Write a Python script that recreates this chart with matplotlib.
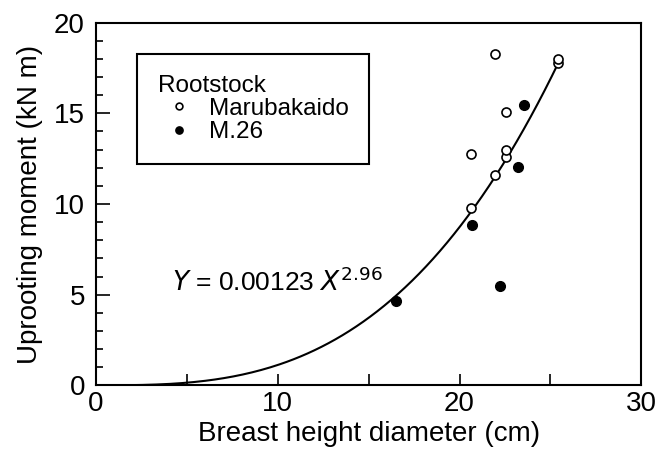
import numpy as np
import matplotlib
matplotlib.use("Agg")
import matplotlib.pyplot as plt
from matplotlib.ticker import MultipleLocator

plt.rcParams["font.family"] = ["Liberation Sans", "DejaVu Sans"]

# Marubakaido (open circles)
maru_x = [20.64, 20.64, 21.93, 21.93, 22.57, 22.57, 22.57, 25.43, 25.43]
maru_y = [9.76, 12.74, 11.62, 18.27, 12.61, 12.98, 15.06, 17.76, 17.98]
# M.26 (filled circles)
m26_x = [16.52, 20.66, 22.24, 23.20, 23.53]
m26_y = [4.67, 8.84, 5.48, 12.06, 15.46]

coef = 0.00123
expo = 2.96
fit_x = np.linspace(0, 25.45, 200)
fit_y = coef * fit_x ** expo

fig = plt.figure(figsize=(6.6, 4.57), dpi=100)
ax = fig.add_axes([0.1455, 0.1569, 0.8262, 0.7934])

ax.plot(fit_x, fit_y, color="black", lw=1.5, zorder=2)
ax.plot(maru_x, maru_y, "o", ms=6.5, mfc="white", mec="black", mew=1.2,
        label="Marubakaido", zorder=3)
ax.plot(m26_x, m26_y, "o", ms=7, mfc="black", mec="black",
        label="M.26", zorder=3)

ax.set_xlim(0, 30)
ax.set_ylim(0, 20)
ax.xaxis.set_major_locator(MultipleLocator(10))
ax.xaxis.set_minor_locator(MultipleLocator(5))
ax.yaxis.set_major_locator(MultipleLocator(5))
ax.yaxis.set_minor_locator(MultipleLocator(1))
ax.tick_params(which="both", direction="in", top=False, right=False, width=1.2)
ax.tick_params(axis="y", which="major", length=10, labelsize=20, pad=8)
ax.tick_params(axis="y", which="minor", length=5)
ax.tick_params(axis="x", which="both", length=8, labelsize=20, pad=4)
for s in ax.spines.values():
    s.set_linewidth(1.5)

ax.set_xlabel("Breast height diameter (cm)", fontsize=20, labelpad=3)
ax.set_ylabel("Uprooting moment (kN m)", fontsize=20, labelpad=8)

ax.text(4.2, 5.2, r"$\it{Y}$ = 0.00123 $\it{X}^{2.96}$", fontsize=19,
        ha="left", va="baseline")

leg = ax.legend(title="Rootstock", loc="upper left", bbox_to_anchor=(0.075, 0.914),
                borderaxespad=0, fontsize=17.5, title_fontsize=17.5, markerscale=0.75,
                fancybox=False, edgecolor="black", framealpha=1, handlelength=1.75,
                handletextpad=0.35, borderpad=0.85, labelspacing=0.05, alignment="left")
leg.get_frame().set_linewidth(1.5)

fig.savefig("out.png", dpi=100)
